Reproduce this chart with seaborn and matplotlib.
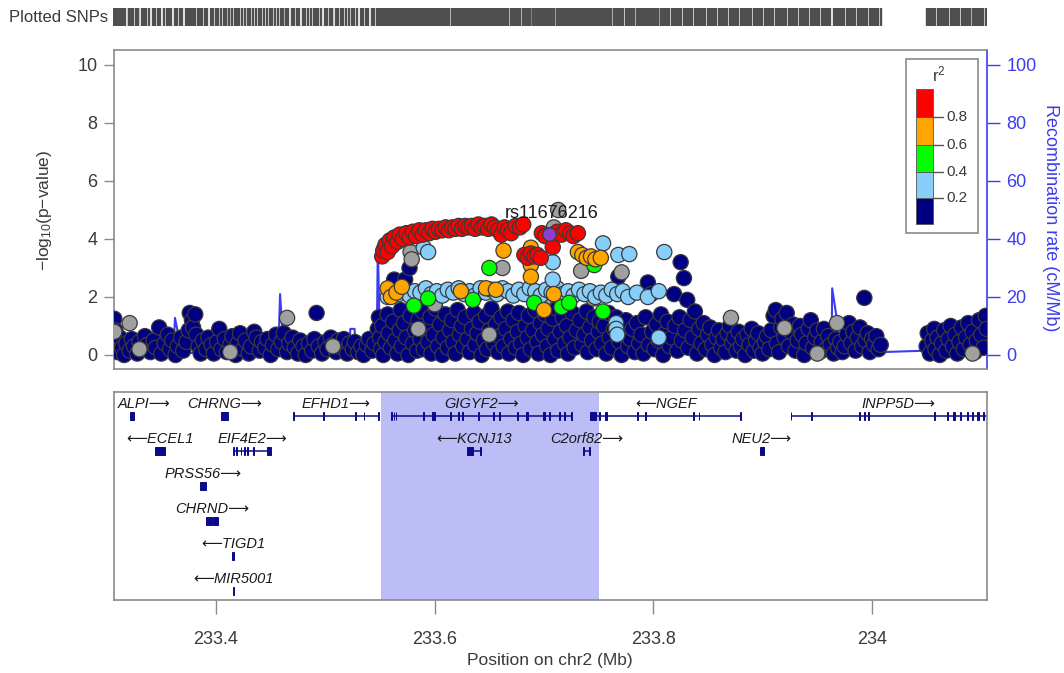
import matplotlib
matplotlib.use("Agg")
import matplotlib.pyplot as plt
from matplotlib.patches import Rectangle
import pandas as pd
import seaborn as sns

# ---------------------------------------------------------------------------
# Association results: (position on chr2 in Mb, -log10 p-value), by LD class
# ---------------------------------------------------------------------------
snps_r2_00 = [
    (233.307, 1.25), (233.308, 0.85), (233.309, 0.45), (233.310, 0.10), (233.312, 0.60),
    (233.314, 0.25), (233.316, 0.00), (233.318, 0.40), (233.321, 0.15), (233.323, 0.55),
    (233.325, 0.30), (233.328, 0.05), (233.330, 0.45), (233.333, 0.20), (233.335, 0.65),
    (233.337, 0.35), (233.340, 0.10), (233.343, 0.50), (233.345, 0.25), (233.348, 0.95),
    (233.350, 0.05), (233.353, 0.40), (233.356, 0.70), (233.358, 0.20), (233.360, 0.50),
    (233.363, 0.00), (233.365, 0.30), (233.368, 0.60), (233.370, 0.15), (233.373, 0.45),
    (233.375, 0.85), (233.376, 1.45), (233.378, 1.20), (233.379, 0.95), (233.381, 1.40),
    (233.382, 0.70), (233.384, 0.30), (233.386, 0.05), (233.388, 0.50), (233.391, 0.20),
    (233.393, 0.60), (233.396, 0.35), (233.398, 0.05), (233.401, 0.45), (233.403, 0.90),
    (233.405, 0.20), (233.408, 0.55), (233.410, 0.10), (233.413, 0.35), (233.415, 0.65),
    (233.418, 0.00), (233.420, 0.40), (233.422, 0.75), (233.425, 0.20), (233.427, 0.50),
    (233.430, 0.05), (233.432, 0.30), (233.435, 0.80), (233.437, 0.60), (233.440, 0.15),
    (233.442, 0.45), (233.445, 0.25), (233.447, 0.55), (233.450, 0.00), (233.452, 0.35),
    (233.455, 0.70), (233.457, 0.20), (233.460, 0.45), (233.462, 0.75), (233.465, 0.10),
    (233.467, 0.40), (233.470, 0.60), (233.472, 0.25), (233.475, 0.05), (233.477, 0.50),
    (233.480, 0.30), (233.482, 0.00), (233.485, 0.40), (233.488, 0.15), (233.490, 0.55),
    (233.492, 1.45), (233.494, 0.30), (233.497, 0.05), (233.500, 0.45), (233.502, 0.20),
    (233.505, 0.60), (233.507, 0.35), (233.510, 0.10), (233.512, 0.50), (233.515, 0.25),
    (233.517, 0.55), (233.520, 0.05), (233.522, 0.40), (233.525, 0.20), (233.527, 0.45),
    (233.530, 0.10), (233.533, 0.30), (233.535, 0.00), (233.538, 0.35), (233.540, 0.55),
    (233.543, 0.15), (233.545, 0.40),
    (233.548, 0.90), (233.549, 1.30), (233.550, 0.60), (233.551, 0.20), (233.552, 1.00),
    (233.553, 0.00), (233.555, 0.45), (233.557, 1.40), (233.558, 0.75), (233.560, 0.25),
    (233.562, 1.15), (233.563, 2.60), (233.564, 0.50), (233.566, 0.05), (233.568, 0.85),
    (233.569, 1.55), (233.570, 0.30), (233.572, 1.10), (233.573, 2.60), (233.574, 0.60),
    (233.576, 0.00), (233.577, 3.00), (233.578, 1.35), (233.580, 0.40), (233.582, 0.85),
    (233.584, 0.15), (233.585, 1.20), (233.587, 0.55), (233.589, 1.50), (233.590, 0.20),
    (233.592, 0.90), (233.594, 0.45), (233.596, 1.30), (233.597, 0.05), (233.599, 0.70),
    (233.601, 1.60), (233.603, 0.30), (233.605, 1.05), (233.607, 0.00), (233.608, 0.60),
    (233.610, 1.40), (233.612, 0.25), (233.614, 0.85), (233.616, 1.20), (233.617, 0.45),
    (233.619, 0.05), (233.621, 1.55), (233.623, 0.70), (233.625, 1.00), (233.626, 0.30),
    (233.628, 1.30), (233.630, 0.55), (233.632, 0.10), (233.634, 0.90), (233.636, 1.45),
    (233.637, 0.35), (233.639, 0.75), (233.641, 1.15), (233.643, 0.00), (233.645, 0.50),
    (233.647, 1.35), (233.648, 0.20), (233.650, 0.85), (233.652, 1.60), (233.654, 0.40),
    (233.656, 1.05), (233.658, 0.10), (233.659, 0.65), (233.661, 1.30), (233.663, 0.30),
    (233.665, 0.90), (233.667, 1.50), (233.668, 0.05), (233.670, 0.55), (233.672, 1.20),
    (233.674, 0.25), (233.676, 0.80), (233.677, 1.45), (233.679, 0.40), (233.681, 0.00),
    (233.683, 1.00), (233.685, 0.60), (233.686, 1.35), (233.688, 0.20), (233.690, 0.85),
    (233.692, 1.55), (233.694, 0.45), (233.695, 0.05), (233.697, 1.10), (233.699, 0.70),
    (233.701, 1.40), (233.703, 0.30), (233.704, 0.90), (233.706, 0.00), (233.708, 1.25),
    (233.710, 0.55), (233.712, 1.60), (233.713, 0.15), (233.715, 0.80), (233.717, 1.30),
    (233.719, 0.40), (233.721, 1.00), (233.722, 0.05), (233.724, 0.60), (233.726, 1.45),
    (233.728, 0.25), (233.730, 0.85), (233.733, 1.20), (233.735, 0.35), (233.737, 0.70),
    (233.739, 1.50), (233.740, 0.10), (233.742, 0.95), (233.744, 0.50), (233.746, 1.30),
    (233.748, 0.20), (233.750, 0.80), (233.751, 1.15),
    (233.753, 0.40), (233.755, 1.00), (233.757, 0.05), (233.759, 1.45), (233.760, 0.60),
    (233.762, 0.25), (233.764, 0.90), (233.766, 1.30), (233.768, 2.70), (233.769, 0.45),
    (233.771, 0.00), (233.773, 0.75), (233.775, 1.20), (233.777, 0.30), (233.779, 0.55),
    (233.781, 0.90), (233.783, 0.10), (233.785, 1.10), (233.787, 0.40), (233.789, 0.70),
    (233.791, 0.05), (233.793, 1.30), (233.795, 2.50), (233.796, 0.35), (233.798, 2.10),
    (233.799, 0.80), (233.801, 0.20), (233.803, 1.05), (233.805, 0.50), (233.807, 1.40),
    (233.809, 0.00), (233.811, 0.75), (233.813, 1.15), (233.815, 0.30), (233.817, 0.60),
    (233.819, 2.10), (233.820, 1.00), (233.822, 0.15), (233.824, 1.30), (233.825, 3.20),
    (233.826, 0.50), (233.828, 2.65), (233.829, 0.85), (233.831, 1.90), (233.832, 0.25),
    (233.834, 1.20), (233.836, 0.60), (233.838, 1.50), (233.840, 0.05), (233.842, 0.90),
    (233.844, 0.40), (233.846, 1.10), (233.848, 0.20), (233.850, 0.70), (233.852, 0.95),
    (233.854, 0.35), (233.856, 0.00), (233.858, 0.60), (233.860, 0.85), (233.862, 0.25),
    (233.864, 0.55), (233.866, 0.10), (233.868, 0.75), (233.870, 1.00), (233.872, 0.40),
    (233.874, 0.60), (233.876, 0.15), (233.878, 0.80), (233.880, 0.30), (233.882, 0.55),
    (233.884, 0.00), (233.886, 0.70), (233.888, 0.35), (233.890, 0.90), (233.892, 0.15),
    (233.894, 0.50), (233.896, 0.75), (233.898, 0.25), (233.900, 0.05), (233.902, 0.45),
    (233.904, 0.65), (233.906, 0.20), (233.908, 0.85), (233.910, 1.35), (233.912, 1.55),
    (233.913, 0.40), (233.915, 0.10), (233.917, 0.95), (233.918, 1.25), (233.920, 0.60),
    (233.922, 1.45), (233.924, 0.30), (233.926, 0.80), (233.928, 1.05), (233.930, 0.15),
    (233.932, 0.50), (233.934, 1.00), (233.936, 0.70), (233.938, 0.00), (233.940, 0.40),
    (233.942, 0.90), (233.944, 1.20), (233.946, 0.25), (233.948, 0.60), (233.950, 0.85),
    (233.952, 0.10), (233.954, 0.45), (233.956, 0.90), (233.958, 0.20), (233.960, 0.65),
    (233.962, 0.35), (233.965, 0.05), (233.967, 0.55), (233.969, 0.25), (233.971, 0.45),
    (233.973, 0.10), (233.975, 0.30), (233.977, 0.70), (233.979, 1.10), (233.981, 0.40),
    (233.983, 0.80), (233.985, 0.15), (233.987, 0.60), (233.989, 0.95), (233.991, 0.30),
    (233.993, 1.97), (233.994, 0.50), (233.996, 0.75), (233.998, 0.10), (234.000, 0.55),
    (234.002, 0.35), (234.004, 0.65), (234.006, 0.20), (234.008, 0.35),
    (234.050, 0.30), (234.051, 0.75), (234.053, 0.05), (234.055, 0.50), (234.057, 0.90),
    (234.058, 0.20), (234.060, 0.60), (234.062, 0.00), (234.064, 0.40), (234.066, 0.85),
    (234.068, 0.15), (234.070, 0.55), (234.072, 1.00), (234.074, 0.30), (234.076, 0.70),
    (234.078, 0.05), (234.080, 0.45), (234.082, 0.95), (234.084, 0.20), (234.086, 0.60),
    (234.088, 1.10), (234.090, 0.35), (234.092, 0.80), (234.094, 0.10), (234.096, 0.50),
    (234.098, 1.20), (234.100, 0.70), (234.102, 0.25), (234.104, 1.35), (234.105, 0.90),
]

snps_r2_na = [
    (233.307, 0.80), (233.321, 1.10), (233.330, 0.20), (233.413, 0.10), (233.465, 1.28),
    (233.507, 0.30), (233.578, 3.55), (233.579, 3.30), (233.585, 0.90), (233.600, 1.75),
    (233.650, 0.70), (233.662, 3.00), (233.700, 1.90), (233.709, 4.40), (233.713, 5.00),
    (233.734, 2.90), (233.745, 1.95), (233.771, 2.85), (233.871, 1.28), (233.920, 0.93),
    (233.950, 0.05), (233.968, 1.10), (234.092, 0.05),
]

snps_r2_02 = [
    (233.557, 2.00), (233.562, 2.20), (233.567, 2.10), (233.572, 2.25), (233.577, 2.05),
    (233.582, 2.20), (233.587, 2.15), (233.592, 2.30), (233.597, 2.10), (233.602, 2.20),
    (233.607, 2.05), (233.612, 2.25), (233.617, 2.15), (233.622, 2.30), (233.627, 2.10),
    (233.632, 2.20), (233.637, 2.05), (233.642, 2.30), (233.647, 2.15), (233.652, 2.25),
    (233.657, 2.10), (233.662, 2.30), (233.667, 2.20), (233.672, 2.05), (233.677, 2.25),
    (233.682, 2.10), (233.687, 2.30), (233.692, 2.20), (233.697, 2.05), (233.702, 2.25),
    (233.707, 2.15), (233.712, 2.30), (233.717, 2.10), (233.722, 2.20), (233.727, 2.05),
    (233.732, 2.25), (233.737, 2.10), (233.742, 2.20), (233.747, 2.00), (233.752, 2.15),
    (233.757, 2.05), (233.762, 2.25), (233.767, 2.10), (233.772, 2.20), (233.777, 2.00),
    (233.785, 2.15), (233.795, 2.00), (233.805, 2.20),
    (233.590, 3.70), (233.594, 3.55), (233.708, 3.20), (233.708, 2.60), (233.754, 3.85),
    (233.768, 3.45), (233.778, 3.48), (233.810, 3.55),
    (233.766, 1.10), (233.766, 0.90), (233.767, 0.70), (233.805, 0.60),
]

snps_r2_04 = [
    (233.581, 1.70), (233.594, 1.95), (233.635, 1.90), (233.650, 3.00), (233.691, 1.80),
    (233.716, 1.65), (233.723, 1.80), (233.746, 3.10), (233.754, 1.50),
]

snps_r2_06 = [
    (233.557, 2.30), (233.560, 2.00), (233.565, 2.15), (233.570, 2.35), (233.624, 2.20),
    (233.647, 2.30), (233.656, 2.25), (233.663, 3.60), (233.688, 3.70), (233.688, 3.10),
    (233.688, 2.70), (233.700, 1.55), (233.709, 2.10), (233.731, 3.55), (233.735, 3.45),
    (233.739, 3.35), (233.743, 3.40), (233.747, 3.30), (233.752, 3.35),
]

snps_r2_08 = [
    (233.552, 3.40), (233.553, 3.60), (233.555, 3.80), (233.557, 3.55), (233.559, 3.95),
    (233.561, 3.75), (233.563, 4.05), (233.566, 3.90), (233.568, 4.15), (233.571, 4.00),
    (233.574, 4.20), (233.577, 4.05), (233.580, 4.25), (233.583, 4.10), (233.586, 4.30),
    (233.589, 4.15), (233.592, 4.30), (233.595, 4.20), (233.598, 4.35), (233.601, 4.25),
    (233.604, 4.35), (233.607, 4.30), (233.610, 4.40), (233.613, 4.30), (233.616, 4.40),
    (233.619, 4.35), (233.622, 4.45), (233.625, 4.35), (233.628, 4.45), (233.631, 4.40),
    (233.634, 4.45), (233.637, 4.35), (233.640, 4.50), (233.643, 4.40), (233.646, 4.45),
    (233.649, 4.35), (233.652, 4.50), (233.655, 4.40), (233.658, 4.30), (233.661, 4.15),
    (233.664, 4.40), (233.667, 4.30), (233.670, 4.20), (233.674, 4.45), (233.678, 4.40),
    (233.681, 4.50),
    (233.682, 3.45), (233.685, 3.35), (233.688, 3.50), (233.691, 3.40), (233.694, 3.45),
    (233.697, 3.35),
    (233.698, 4.20), (233.701, 4.10), (233.708, 3.72), (233.712, 4.25), (233.716, 4.15),
    (233.720, 4.30), (233.724, 4.20), (233.727, 4.10), (233.731, 4.20),
]

lead_snp = "rs11676216"
lead_pos = 233.705
lead_logp = 4.17

# Recombination rate (cM/Mb)
recomb = [
    (233.3067, 1.0), (233.330, 0.8), (233.3610, 0.5), (233.3625, 12.8), (233.3650, 8.0),
    (233.3670, 0.8), (233.400, 0.6), (233.4570, 0.5), (233.4586, 21.0), (233.4620, 1.0),
    (233.490, 0.5), (233.5224, 0.5), (233.5228, 9.0), (233.5268, 9.0), (233.5275, 1.0),
    (233.5470, 1.0), (233.5480, 38.0), (233.5495, 12.0), (233.5510, 2.0), (233.600, 1.5),
    (233.700, 1.0), (233.800, 1.5), (233.900, 1.0), (233.9630, 1.0), (233.9636, 23.0),
    (233.9680, 12.0), (233.9700, 1.0), (234.000, 0.8), (234.009, 1.0), (234.050, 1.5),
    (234.100, 2.0), (234.1040, 4.0), (234.1052, 5.0),
]

# Genes in the region
gene_names = ["ALPI", "CHRNG", "EFHD1", "GIGYF2", "NGEF", "INPP5D", "ECEL1", "EIF4E2",
              "KCNJ13", "C2orf82", "NEU2", "PRSS56", "CHRND", "TIGD1", "MIR5001"]
gene_start = [233.3215, 233.4045, 233.4705, 233.5605, 233.7425, 233.9255, 233.3440, 233.4160,
              233.6300, 233.7360, 233.8980, 233.3850, 233.3910, 233.4145, 233.4158]
gene_end = [233.3250, 233.4110, 233.5490, 233.7260, 233.8800, 234.1220, 233.3530, 233.4500,
            233.6420, 233.7420, 233.9010, 233.3910, 233.4020, 233.4165, 233.4162]
gene_row = [0, 0, 0, 0, 0, 0, 1, 1, 1, 1, 1, 2, 3, 4, 5]
gene_strand = ["+", "+", "+", "+", "-", "+", "-", "+", "-", "+", "+", "+", "+", "-", "-"]
gene_exons = [
    [(233.3215, 233.3250)],
    [(233.4045, 233.4110)],
    [(233.4705, 233.4712), (233.4980, 233.4987), (233.5270, 233.5277), (233.5350, 233.5357),
     (233.5483, 233.5490)],
    [(233.5605, 233.5610), (233.5625, 233.5630), (233.5645, 233.5650), (233.5895, 233.5902),
     (233.5980, 233.6000), (233.6140, 233.6150), (233.6215, 233.6222), (233.6250, 233.6257),
     (233.6395, 233.6402), (233.6535, 233.6545), (233.6590, 233.6600), (233.6755, 233.6765),
     (233.6840, 233.6855), (233.6995, 233.7010), (233.7045, 233.7052), (233.7135, 233.7150),
     (233.7180, 233.7190), (233.7245, 233.7260)],
    [(233.7425, 233.7475), (233.7505, 233.7515), (233.7560, 233.7580), (233.7855, 233.7862),
     (233.7925, 233.7932), (233.8365, 233.8372), (233.8415, 233.8422), (233.8793, 233.8800)],
    [(233.9255, 233.9262), (233.9445, 233.9452), (233.9885, 233.9892), (233.9925, 233.9932),
     (233.9965, 233.9972), (234.0565, 234.0575), (234.0685, 234.0692), (234.0745, 234.0755),
     (234.0805, 234.0812), (234.0865, 234.0880), (234.0915, 234.0922), (234.0965, 234.0975),
     (234.1015, 234.1022)],
    [(233.3440, 233.3530)],
    [(233.4160, 233.4167), (233.4185, 233.4192), (233.4225, 233.4232), (233.4255, 233.4262),
     (233.4285, 233.4292), (233.4340, 233.4347), (233.4465, 233.4500)],
    [(233.6300, 233.6350), (233.6413, 233.6420)],
    [(233.7360, 233.7366), (233.7414, 233.7420)],
    [(233.8980, 233.9010)],
    [(233.3850, 233.3910)],
    [(233.3910, 233.3960), (233.3975, 233.4020)],
    [(233.4145, 233.4165)],
    [(233.4158, 233.4162)],
]
highlight = (233.551, 233.750)

ld_labels = ["0.2", "0.4", "0.6", "0.8"]
ld_colors = ["#000080", "#87CEFA", "#00FF00", "#FFA500", "#FF0000"]
na_color = "#A0A0A0"

x_ticks = [233.4, 233.6, 233.8, 234.0]
x_tick_labels = ["233.4", "233.6", "233.8", "234"]

# ---------------------------------------------------------------------------
sns.set_theme(style="white")
plt.rcParams["font.family"] = ["Liberation Sans", "DejaVu Sans"]
plt.rcParams["mathtext.fontset"] = "custom"
plt.rcParams["mathtext.rm"] = "Liberation Sans"
plt.rcParams["mathtext.it"] = "Liberation Sans:italic"

TXT = "#3a3a3a"
FRAME = "#8a8a8a"
BLUE = "#3c3cf0"
XLIM = (233.3067, 234.1052)
RARROW = "\u27f6"
LARROW = "\u27f5"

fig = plt.figure(figsize=(10.64, 6.73), dpi=100)
ax = fig.add_axes([0.10714, 0.45171, 0.82049, 0.47400])
ax_gene = fig.add_axes([0.10714, 0.10847, 0.82049, 0.30906])
ax_rug = fig.add_axes([0.10620, 0.96137, 0.82143, 0.02675])
ax2 = ax.twinx()
ax.set_zorder(ax2.get_zorder() + 1)
ax.patch.set_visible(False)

# scatter data, in drawing order
groups = [("r2_00", snps_r2_00, ld_colors[0]), ("na", snps_r2_na, na_color),
          ("r2_02", snps_r2_02, ld_colors[1]), ("r2_04", snps_r2_04, ld_colors[2]),
          ("r2_06", snps_r2_06, ld_colors[3]), ("r2_08", snps_r2_08, ld_colors[4])]
rows = []
for name, pts, _ in groups:
    for p, v in pts:
        rows.append({"pos": p, "logp": v, "ld": name})
df = pd.DataFrame(rows)
palette = {name: col for name, _, col in groups}

sns.scatterplot(data=df, x="pos", y="logp", hue="ld", palette=palette, s=120,
                edgecolor="#3a3a3a", linewidth=0.9, legend=False, ax=ax, zorder=3)
sns.scatterplot(x=[lead_pos], y=[lead_logp], color="#8B3FD0", s=95, marker="o",
                edgecolor="#3a3a3a", linewidth=0.9, legend=False, ax=ax, zorder=5)
ax.text(lead_pos + 0.002, lead_logp + 0.42, lead_snp, ha="center", va="bottom",
        fontsize=13, color="#1a1a1a", zorder=6)

rec_df = pd.DataFrame(recomb, columns=["pos", "rate"])
sns.lineplot(data=rec_df, x="pos", y="rate", sort=False, estimator=None, color=BLUE,
             lw=1.5, ax=ax2)

ax.set_xlim(*XLIM)
ax.set_ylim(-0.483, 10.517)
ax2.set_ylim(-4.83, 105.17)
ax.set_yticks([0, 2, 4, 6, 8, 10])
ax.set_xticks([])
ax.set_xlabel("")
ax.set_ylabel("")
ax2.set_ylabel("")
ax.tick_params(axis="y", left=True, length=7, width=1, color=FRAME, labelsize=13,
               labelcolor=TXT, pad=5)
ax2.set_yticks([0, 20, 40, 60, 80, 100])
ax2.tick_params(axis="y", right=True, length=9, width=1, color=BLUE, labelsize=13,
                labelcolor=BLUE, pad=5)
for s in ["top", "left", "bottom"]:
    ax.spines[s].set_color(FRAME)
    ax.spines[s].set_linewidth(1.2)
ax.spines["right"].set_visible(False)
for s in ["top", "left", "bottom"]:
    ax2.spines[s].set_visible(False)
ax2.spines["right"].set_color(BLUE)
ax2.spines["right"].set_linewidth(1.2)

# LD colour key
tr = ax.transAxes
ax.add_patch(Rectangle((0.907, 0.426), 0.083, 0.546, transform=tr, facecolor="white",
                       edgecolor=FRAME, lw=1.2, zorder=7))
seg = [0.4545, 0.536, 0.6176, 0.702, 0.790, 0.878]
for i, col in enumerate(ld_colors):
    ax.add_patch(Rectangle((0.919, seg[i]), 0.019, seg[i + 1] - seg[i], transform=tr,
                           facecolor=col, edgecolor="#555555", lw=0.6, zorder=8))
for i, lab in enumerate(ld_labels):
    y = seg[i + 1]
    ax.plot([0.938, 0.950], [y, y], transform=tr, color="#555555", lw=1, zorder=8)
    ax.text(0.954, y, lab, transform=tr, ha="left", va="center", fontsize=11,
            color=TXT, zorder=8)
ax.text(0.945, 0.893, "r$^2$", transform=tr, ha="center", va="bottom", fontsize=12,
        color=TXT, zorder=8)

# SNP rug
ax_rug.vlines(df["pos"].tolist() + [lead_pos], 0, 1, color="#4f4f4f", lw=1.7)
ax_rug.set_xlim(*XLIM)
ax_rug.set_ylim(0, 1)
ax_rug.axis("off")
fig.text(108 / 1064, 1 - 17 / 673, "Plotted SNPs", ha="right", va="center", fontsize=12,
         color=TXT)

# Gene track
ax_gene.axvspan(*highlight, color="#bcbcf7", lw=0, zorder=0)
GCOL = "#0a0a8a"
for name, g0, g1, row, strand, exons in zip(gene_names, gene_start, gene_end, gene_row,
                                            gene_strand, gene_exons):
    y = -row
    ax_gene.plot([g0, g1], [y, y], color=GCOL, lw=1.1, zorder=2, solid_capstyle="butt")
    for e0, e1 in exons:
        ax_gene.add_patch(Rectangle((e0, y - 0.11), e1 - e0, 0.22, facecolor=GCOL,
                                    edgecolor=GCOL, lw=0.7, zorder=3))
    label = name + RARROW if strand == "+" else LARROW + name
    xm = max((g0 + g1) / 2, XLIM[0] + 0.0275)
    ax_gene.text(xm, y + 0.33, label, ha="center", va="center", fontsize=10.5,
                 style="italic", color="#1a1a1a", zorder=4)
ax_gene.set_xlim(*XLIM)
ax_gene.set_ylim(-5.257, 0.686)
ax_gene.set_yticks([])
ax_gene.set_xticks(x_ticks)
ax_gene.set_xticklabels(x_tick_labels)
ax_gene.tick_params(axis="x", bottom=True, length=10, width=1, color=FRAME, labelsize=13,
                    labelcolor=TXT, pad=12)
for s in ax_gene.spines.values():
    s.set_color(FRAME)
    s.set_linewidth(1.2)

# Axis titles
fig.text(44 / 1064, 1 - 210 / 673, "\u2212log$_{10}$(p\u2212value)", rotation=90,
         ha="center", va="center", fontsize=12.5, color=TXT)
fig.text(1050 / 1064, 1 - 218 / 673, "Recombination rate (cM/Mb)", rotation=270,
         ha="center", va="center", fontsize=13, color=BLUE)
fig.text(550 / 1064, 1 - 661 / 673, "Position on chr2 (Mb)", ha="center", va="center",
         fontsize=12.5, color=TXT)

fig.savefig("out.png", dpi=100)
